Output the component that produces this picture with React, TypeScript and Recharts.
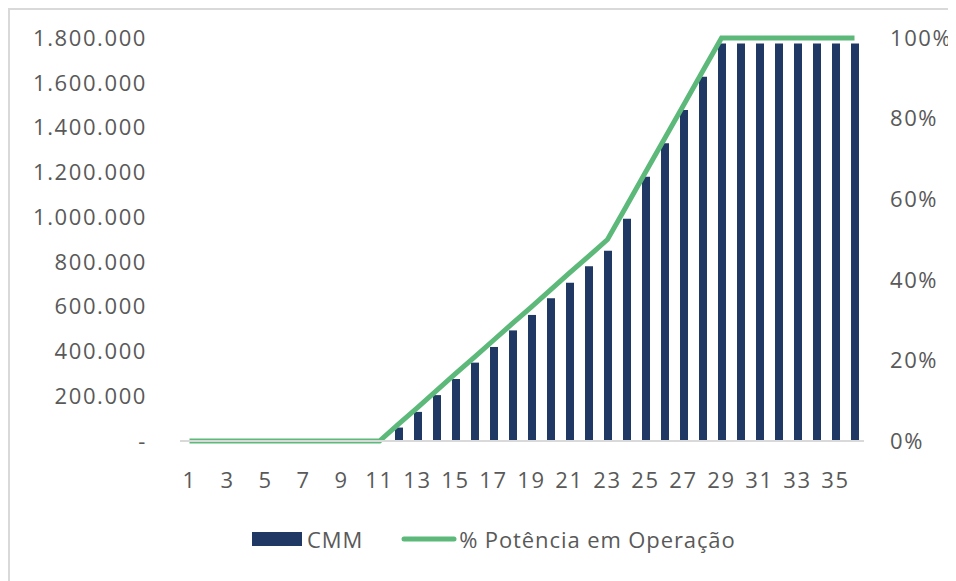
import { ComposedChart, Bar, Line, XAxis, YAxis, Legend } from "recharts";

const periods = [
  "1", "2", "3", "4", "5", "6", "7", "8", "9", "10", "11", "12",
  "13", "14", "15", "16", "17", "18", "19", "20", "21", "22", "23", "24",
  "25", "26", "27", "28", "29", "30", "31", "32", "33", "34", "35", "36",
];

const cmm = [
  0, 0, 0, 0, 0, 0, 0, 0, 0, 0, 0, 60000,
  130000, 205000, 277000, 350000, 420000, 494000, 563000, 638000, 707000, 780000, 850000, 993000,
  1180000, 1330000, 1478000, 1627000, 1775000, 1775000, 1775000, 1775000, 1775000, 1775000, 1775000, 1775000,
];

const potencia = [
  0, 0, 0, 0, 0, 0, 0, 0, 0, 0, 0, 0.042,
  0.083, 0.125, 0.167, 0.208, 0.25, 0.292, 0.333, 0.375, 0.417, 0.458, 0.5, 0.583,
  0.667, 0.75, 0.833, 0.917, 1, 1, 1, 1, 1, 1, 1, 1,
];

const leftTicks = [0, 200000, 400000, 600000, 800000, 1000000, 1200000, 1400000, 1600000, 1800000];
const rightTicks = [0, 0.2, 0.4, 0.6, 0.8, 1];

const data = periods.map((p, i) => ({ name: p, cmm: cmm[i], pct: potencia[i] }));

const NAVY = "#1F3864";
const GREEN = "#5CB97A";
const TEXT = "#595959";
const FONT = "'Open Sans', sans-serif";

const fmtThousands = (v: number) => (v === 0 ? "-" : v.toLocaleString("de-DE"));
const fmtPct = (v: number) => `${Math.round(v * 100)}%`;

const tickStyle = { fill: TEXT, fontSize: 22, fontFamily: FONT, letterSpacing: 1.6 };

const LegendContent = () => (
  <div
    style={{
      height: 80,
      paddingBottom: 4,
      boxSizing: "border-box",
      display: "flex",
      alignItems: "center",
      paddingLeft: 242,
      fontFamily: FONT,
      fontSize: 22,
      color: TEXT,
      letterSpacing: 0.9,
    }}
  >
    <div style={{ width: 50, height: 14, background: NAVY, marginRight: 5 }} />
    <span style={{ marginRight: 38 }}>CMM</span>
    <svg width={56} height={10} style={{ marginRight: 2 }}>
      <line x1={3} y1={5} x2={53} y2={5} stroke={GREEN} strokeWidth={5} strokeLinecap="round" />
    </svg>
    <span>% Potência em Operação</span>
  </div>
);

export default function App() {
  return (
    <div
      style={{
        width: 948,
        height: 573,
        borderTop: "2px solid #d9d9d9",
        borderLeft: "2px solid #d9d9d9",
        boxSizing: "border-box",
        background: "#fff",
      }}
    >
      <ComposedChart
        width={946}
        height={571}
        data={data}
        margin={{ top: 28, right: 0, left: 0, bottom: 0 }}
        barCategoryGap={0}
        style={{ fontFamily: FONT }}
      >
        <XAxis
          dataKey="name"
          interval={1}
          tickLine={false}
          axisLine={{ stroke: "#d9d9d9", strokeWidth: 2 }}
          tickSize={6}
          tickMargin={25}
          height={60}
          tick={tickStyle}
        />
        <YAxis
          yAxisId="left"
          width={170}
          domain={[0, 1800000]}
          ticks={leftTicks}
          tickFormatter={fmtThousands}
          axisLine={false}
          tickLine={false}
          tickSize={6}
          tickMargin={27}
          tick={tickStyle}
        />
        <YAxis
          yAxisId="right"
          orientation="right"
          width={92}
          domain={[0, 1]}
          ticks={rightTicks}
          tickFormatter={fmtPct}
          axisLine={false}
          tickLine={false}
          tickSize={6}
          tickMargin={20}
          tick={tickStyle}
        />
        <Legend verticalAlign="bottom" content={() => <LegendContent />} wrapperStyle={{ left: 0, width: 946 }} />
        <Bar yAxisId="left" dataKey="cmm" name="CMM" fill={NAVY} barSize={8} isAnimationActive={false} />
        <Line
          yAxisId="right"
          dataKey="pct"
          name="% Potência em Operação"
          stroke={GREEN}
          strokeWidth={5}
          dot={false}
          activeDot={false}
          type="linear"
          isAnimationActive={false}
        />
      </ComposedChart>
    </div>
  );
}
